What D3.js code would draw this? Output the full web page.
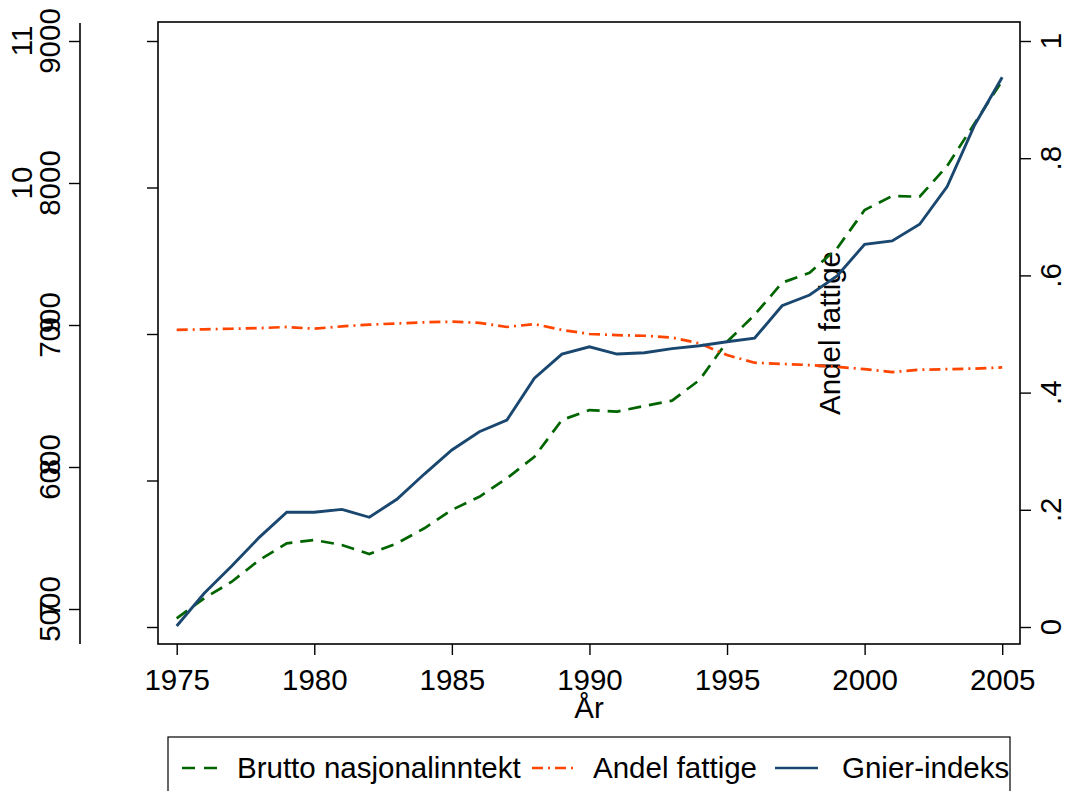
<!DOCTYPE html>
<html>
<head>
<meta charset="utf-8">
<script src="https://cdn.jsdelivr.net/npm/d3@7"></script>
<style>
  html, body { margin: 0; padding: 0; background: #fff; }
  svg { display: block; }
  text { font-family: "Liberation Sans", Arial, sans-serif; fill: #000; }
</style>
</head>
<body>
<svg id="chart" width="1069" height="791"></svg>
<script>
// ---- Data ----
const years = [1975,1976,1977,1978,1979,1980,1981,1982,1983,1984,1985,1986,1987,1988,1989,
               1990,1991,1992,1993,1994,1995,1996,1997,1998,1999,2000,2001,2002,2003,2004,2005];
const gni = [5059,5196,5309,5457,5571,5594,5560,5498,5571,5674,5799,5889,6015,6162,6413,
             6481,6470,6509,6545,6686,6947,7130,7350,7418,7585,7846,7942,7937,8147,8438,8729];
const poverty = [0.507,0.508,0.509,0.510,0.512,0.509,0.513,0.516,0.518,0.520,0.521,0.519,0.512,0.517,0.507,
                 0.500,0.498,0.497,0.494,0.484,0.464,0.451,0.449,0.447,0.444,0.440,0.435,0.439,0.440,0.441,0.443];
const gini = [7.007,7.230,7.416,7.612,7.783,7.783,7.803,7.749,7.872,8.044,8.208,8.333,8.413,8.698,8.863,
              8.913,8.863,8.872,8.900,8.920,8.947,8.971,9.193,9.266,9.396,9.612,9.635,9.749,10.006,10.427,10.752];

const xTicks = [1975,1980,1985,1990,1995,2000,2005];
const gniTicks = [5000,6000,7000,8000,9000];
const giniTickLabels = ["7","8","9","10","11"];
const povTicks = [0,0.2,0.4,0.6,0.8,1];
const povTickLabels = ["0",".2",".4",".6",".8","1"];
const seriesNames = ["Brutto nasjonalinntekt","Andel fattige","Gnier-indeks"];
const xTitle = "År";
const rightTitle = "Andel fattige";

// ---- Layout ----
const svg = d3.select("#chart");
const frame = {left: 158, right: 1020, top: 22, bottom: 644};

const x = d3.scaleLinear().domain([1975, 2005]).range([176.7, 1002.2]);
const yGni = d3.scaleLinear().domain([5000, 9000]).range([627, 41]);
const yGini = d3.scaleLinear().domain([7, 11]).range([627, 41]);
const yPov = d3.scaleLinear().domain([0, 1]).range([627, 41]);
const yOuter = d3.scaleLinear().domain([5000, 9000]).range([609, 41]);

const colors = {gni: "#006400", pov: "#ff4500", gini: "#1a476f"};
const dashes = {gni: "13 8", pov: "11 5 2 5", gini: null};
const FS = 29.5;

// Frame
svg.append("rect")
  .attr("x", frame.left).attr("y", frame.top)
  .attr("width", frame.right - frame.left).attr("height", frame.bottom - frame.top)
  .attr("fill", "none").attr("stroke", "#000").attr("stroke-width", 1.6);

// Inner left ticks (no labels)
const innerAxis = svg.append("g").attr("transform", `translate(${frame.left},0)`)
  .call(d3.axisLeft(yGni).tickValues(gniTicks).tickSize(11).tickFormat(""));
innerAxis.select(".domain").remove();
innerAxis.selectAll("line").attr("stroke", "#000").attr("stroke-width", 1.4);

// Outer left axis
const outerX = 80;
svg.append("line").attr("x1", outerX).attr("x2", outerX)
  .attr("y1", frame.top + 1).attr("y2", frame.bottom)
  .attr("stroke", "#000").attr("stroke-width", 1.6);
const outerAxis = svg.append("g").attr("transform", `translate(${outerX},0)`)
  .call(d3.axisLeft(yOuter).tickValues(gniTicks).tickSize(11).tickFormat(""));
outerAxis.select(".domain").remove();
outerAxis.selectAll("line").attr("stroke", "#000").attr("stroke-width", 1.4);

// Outer labels: GNI values
svg.append("g").selectAll("text").data(gniTicks).join("text")
  .attr("transform", d => `translate(60,${yOuter(d)}) rotate(-90)`)
  .attr("text-anchor", "middle").attr("font-size", FS)
  .text(d => d3.format("d")(d));
// Outer labels: Gini values (drawn at same tick positions)
svg.append("g").selectAll("text").data(giniTickLabels).join("text")
  .attr("transform", (d, i) => `translate(${d.length > 1 ? 32 : 60},${yOuter(gniTicks[i])}) rotate(-90)`)
  .attr("text-anchor", "middle").attr("font-size", FS)
  .text(d => d);

// Right axis
const rightAxis = svg.append("g").attr("transform", `translate(${frame.right},0)`)
  .call(d3.axisRight(yPov).tickValues(povTicks).tickSize(11).tickFormat(""));
rightAxis.select(".domain").remove();
rightAxis.selectAll("line").attr("stroke", "#000").attr("stroke-width", 1.4);
svg.append("g").selectAll("text").data(povTicks).join("text")
  .attr("transform", d => `translate(1061,${yPov(d)}) rotate(-90)`)
  .attr("text-anchor", "middle").attr("font-size", FS)
  .text((d, i) => povTickLabels[i]);

// Right axis title (drawn inside plot as in reference)
svg.append("text")
  .attr("transform", `translate(840,333) rotate(-90)`)
  .attr("text-anchor", "middle").attr("font-size", FS)
  .text(rightTitle);

// X axis
const xAxis = svg.append("g").attr("transform", `translate(0,${frame.bottom})`)
  .call(d3.axisBottom(x).tickValues(xTicks).tickSize(11).tickFormat(d3.format("d")));
xAxis.select(".domain").remove();
xAxis.selectAll("line").attr("stroke", "#000").attr("stroke-width", 1.4);
xAxis.selectAll("text").attr("font-size", FS).attr("font-family", "Liberation Sans, Arial, sans-serif")
  .attr("fill", "#000").attr("dy", null).attr("y", 46);

svg.append("text").attr("x", 589).attr("y", 718)
  .attr("text-anchor", "middle").attr("font-size", FS).text(xTitle);

// Lines
const mk = (arr, ys) => d3.line().x((d, i) => x(years[i])).y(d => ys(d))(arr);
svg.append("path").attr("d", mk(gni, yGni))
  .attr("fill", "none").attr("stroke", colors.gni).attr("stroke-width", 2.7)
  .attr("stroke-dasharray", dashes.gni);
svg.append("path").attr("d", mk(poverty, yPov))
  .attr("fill", "none").attr("stroke", colors.pov).attr("stroke-width", 2.7)
  .attr("stroke-dasharray", dashes.pov);
svg.append("path").attr("d", mk(gini, yGini))
  .attr("fill", "none").attr("stroke", colors.gini).attr("stroke-width", 2.9);

// Legend
svg.append("rect").attr("x", 168).attr("y", 737).attr("width", 842).attr("height", 70)
  .attr("fill", "none").attr("stroke", "#000").attr("stroke-width", 1.2);
const legendItems = [
  {name: seriesNames[0], color: colors.gni, dash: "13 9", x1: 182, x2: 222, tx: 237},
  {name: seriesNames[1], color: colors.pov, dash: "11 5 2 5", x1: 532, x2: 575, tx: 593},
  {name: seriesNames[2], color: colors.gini, dash: null, x1: 775, x2: 818, tx: 842}
];
const lg = svg.append("g").selectAll("g").data(legendItems).join("g");
lg.append("line").attr("x1", d => d.x1).attr("x2", d => d.x2).attr("y1", 768).attr("y2", 768)
  .attr("stroke", d => d.color).attr("stroke-width", 2.7).attr("stroke-dasharray", d => d.dash);
lg.append("text").attr("x", d => d.tx).attr("y", 778).attr("font-size", FS).text(d => d.name);
</script>
</body>
</html>
